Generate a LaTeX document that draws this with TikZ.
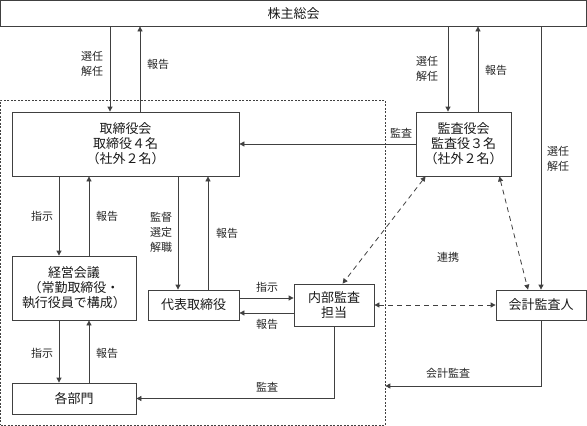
\documentclass[tikz,border=0pt]{standalone}
\usepackage{fontspec}
\setmainfont{Noto Sans CJK JP}
\usetikzlibrary{arrows.meta}
\begin{document}
\begin{tikzpicture}[x=1pt,y=-1pt,
  box/.style={draw=black!75, line width=0.8pt, inner sep=0pt, align=center,
    font=\fontsize{13}{15}\selectfont, text=black!90},
  lbl/.style={font=\fontsize{11}{15}\selectfont, align=center, text=black!85, inner sep=0pt},
  arr/.style={draw=black!75, line width=0.8pt, -{Triangle[length=5pt,width=5pt]}},
  darr/.style={draw=black!75, line width=0.8pt, dash pattern=on 5pt off 4pt,
    {Triangle[length=5pt,width=5pt]}-{Triangle[length=5pt,width=5pt]}},
  grpbox/.style={draw=black!75, line width=0.7pt, dash pattern=on 2pt off 1.5pt, inner sep=0pt}
]
\useasboundingbox (0,0) rectangle (587,426);
\node[grpbox, minimum width=384.5pt, minimum height=325pt] (grp) at (192.75,262.5) {};
\node[box, minimum width=586pt, minimum height=25.5pt] (top) at (293.5,13.25) {株主総会};
\node[box, minimum width=227pt, minimum height=64pt] (tori) at (125.5,144) {取締役会\\取締役４名\\（社外２名）};
\node[box, minimum width=95pt, minimum height=64pt, fill=white] (kansa) at (463.5,144) {監査役会\\監査役３名\\（社外２名）};
\node[box, minimum width=124pt, minimum height=64pt] (keiei) at (74,288) {経営会議\\（常勤取締役・\\執行役員で構成）};
\node[box, minimum width=91pt, minimum height=30pt] (daihyo) at (193.5,305) {代表取締役};
\node[box, minimum width=80pt, minimum height=42pt] (naibu) at (334,305) {内部監査\\担当};
\node[box, minimum width=90pt, minimum height=30pt] (kaikei) at (541,305) {会計監査人};
\node[box, minimum width=124pt, minimum height=31pt] (kakubu) at (74,398.5) {各部門};

% shareholders <-> board
\draw[arr] (top.south -| 110,0) -- (tori.north -| 110,0);
\draw[arr] (tori.north -| 140,0) -- (top.south -| 140,0);
\node[lbl] (l1) at (92,64) {選任\\解任};
\node[lbl] (l2) at (158,64) {報告};
% shareholders <-> auditors
\draw[arr] (top.south -| 448,0) -- (kansa.north -| 448,0);
\draw[arr] (kansa.north -| 478,0) -- (top.south -| 478,0);
\node[lbl] (l3) at (427,69) {選任\\解任};
\node[lbl] (l4) at (496,70) {報告};
% shareholders -> accounting auditor
\draw[arr] (top.south -| kaikei.north) -- (kaikei.north);
\node[lbl] (l5) at (558,159) {選任\\解任};
% audit board -> board
\draw[arr] (kansa.west) -- (tori.east);
\node[lbl] (l6) at (401,133) {監査};
% board <-> management meeting
\draw[arr] (tori.south -| 59,0) -- (keiei.north -| 59,0);
\draw[arr] (keiei.north -| 89,0) -- (tori.south -| 89,0);
\node[lbl] (l7) at (42,216) {指示};
\node[lbl] (l8) at (107,216) {報告};
% board <-> representative director
\draw[arr] (tori.south -| 178,0) -- (daihyo.north -| 178,0);
\draw[arr] (daihyo.north -| 208,0) -- (tori.south -| 208,0);
\node[lbl] (l9) at (161,232) {監督\\選定\\解職};
\node[lbl] (l10) at (227,233) {報告};
% management meeting <-> departments
\draw[arr] (keiei.south -| 59,0) -- (kakubu.north -| 59,0);
\draw[arr] (kakubu.north -| 89,0) -- (keiei.south -| 89,0);
\node[lbl] (l11) at (42,353) {指示};
\node[lbl] (l12) at (107,353) {報告};
% representative director <-> internal audit
\draw[arr] (daihyo.east |- 0,298) -- (naibu.west |- 0,298);
\draw[arr] (naibu.west |- 0,313) -- (daihyo.east |- 0,313);
\node[lbl] (l13) at (267,287) {指示};
\node[lbl] (l14) at (267,324) {報告};
% internal audit -> departments
\draw[arr] (naibu.south) |- (kakubu.east);
\node[lbl] (l15) at (267,387) {監査};
% accounting auditor -> group
\draw[arr] (kaikei.south) |- (grp.east |- 0,386);
\node[lbl] (l16) at (448,373) {会計監査};
% cooperation
\draw[darr] ([xshift=10pt]kansa.south west) -- ([xshift=49pt]naibu.north west);
\draw[darr] ([xshift=-12pt]kansa.south east) -- ([xshift=-13pt]kaikei.north);
\draw[darr] (naibu.east) -- (kaikei.west);
\node[lbl] (l17) at (448,257) {連携};
\end{tikzpicture}
\end{document}
